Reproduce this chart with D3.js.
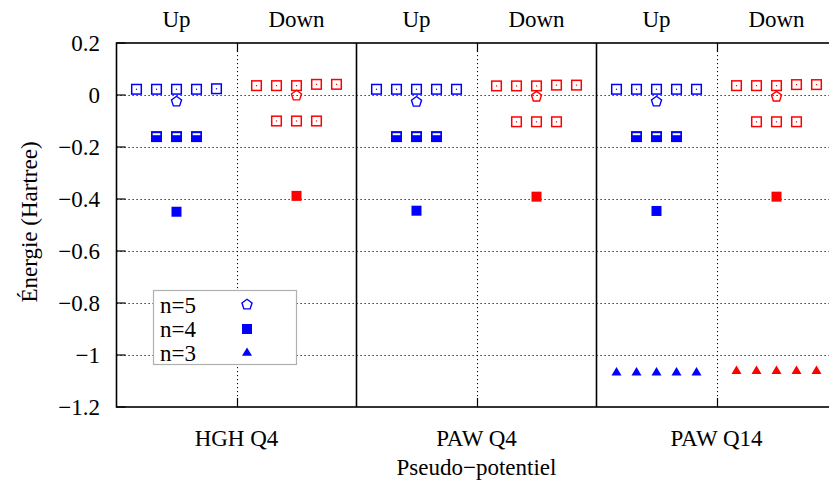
<!DOCTYPE html>
<html lang="fr">
<head>
    <meta charset="utf-8">
    <title>D3 - niveaux d'énergie</title>
    <style>
        body { margin: 0; background: #fff; }
        svg { display: block; }
    </style>
</head>
<body>

<script src="https://cdn.jsdelivr.net/npm/d3@7/dist/d3.min.js"></script>
<script>
    // catégories et spins
    var pseudos = ["HGH Q4", "PAW Q4", "PAW Q14"];
    var spins = ["Up", "Down"];
    var yTicks = [0.2, 0, -0.2, -0.4, -0.6, -0.8, -1, -1.2];

    // énergies [pseudo][spin]
    var openTop = [
        [[0.022, 0.022, 0.022, 0.022, 0.024], [0.036, 0.036, 0.036, 0.041, 0.041]],
        [[0.022, 0.022, 0.022, 0.022, 0.022], [0.035, 0.035, 0.035, 0.038, 0.038]],
        [[0.022, 0.022, 0.022, 0.022, 0.022], [0.036, 0.036, 0.036, 0.040, 0.040]]
    ];
    var openLow = [
        [[], [-0.100, -0.100, -0.100]],
        [[], [-0.103, -0.103, -0.103]],
        [[], [-0.103, -0.103, -0.103]]
    ];
    var n5 = [
        [[-0.023], [0.000]],
        [[-0.024], [-0.004]],
        [[-0.023], [-0.004]]
    ];
    var n4p = [
        [[-0.160, -0.160, -0.160], []],
        [[-0.160, -0.160, -0.160], []],
        [[-0.160, -0.160, -0.160], []]
    ];
    var n4s = [
        [[-0.449], [-0.388]],
        [[-0.445], [-0.391]],
        [[-0.446], [-0.391]]
    ];
    var n3 = [
        [[], []],
        [[], []],
        [[-1.064, -1.064, -1.064, -1.064, -1.064], [-1.058, -1.058, -1.058, -1.058, -1.058]]
    ];
    var legendLabels = ["n=5", "n=4", "n=3"];

    function main() {
        var width = 829,
            height = 484;
        var colors = ["#0000ff", "#ff0000"];

        var svg = d3.select("body").append("svg")
            .attr("width", width)
            .attr("height", height)
            .attr("font-family", "'Liberation Serif', 'DejaVu Serif', serif")
            .attr("font-size", 23);

        var x = d3.scaleLinear().domain([0, 3]).range([116.5, 836.5]);
        var y = d3.scaleLinear().domain([-1.2, 0.2]).range([407, 43]);

        // grille pointillée
        var grid = svg.append("g")
            .attr("stroke", "#000")
            .attr("stroke-width", 1)
            .attr("stroke-dasharray", "1.2,2.8");
        grid.selectAll(".gy").data(yTicks.slice(1, -1)).enter().append("line")
            .attr("x1", x(0)).attr("x2", x(3))
            .attr("y1", function (d) { return Math.round(y(d)) + 0.5; })
            .attr("y2", function (d) { return Math.round(y(d)) + 0.5; });
        grid.selectAll(".gx").data([0.5, 1.5, 2.5]).enter().append("line")
            .attr("x1", function (d) { return Math.round(x(d)) + 0.5; })
            .attr("x2", function (d) { return Math.round(x(d)) + 0.5; })
            .attr("y1", y(0.2)).attr("y2", y(-1.2));

        // cadre et séparations
        var frame = svg.append("g").attr("stroke", "#000").attr("stroke-width", 1.6).attr("fill", "none");
        frame.append("rect")
            .attr("x", x(0)).attr("y", y(0.2))
            .attr("width", x(3) - x(0)).attr("height", y(-1.2) - y(0.2));
        frame.selectAll(".sep").data([1, 2]).enter().append("line")
            .attr("x1", function (d) { return x(d); }).attr("x2", function (d) { return x(d); })
            .attr("y1", y(0.2)).attr("y2", y(-1.2));

        // graduations
        var ticks = svg.append("g").attr("stroke", "#000").attr("stroke-width", 1.2);
        ticks.selectAll(".ty").data(yTicks).enter().append("line")
            .attr("x1", x(0)).attr("x2", x(0) + 9)
            .attr("y1", function (d) { return y(d); }).attr("y2", function (d) { return y(d); });
        [0.2, -1.2].forEach(function (v) {
            ticks.selectAll(null).data([0.5, 1.5, 2.5]).enter().append("line")
                .attr("x1", function (d) { return Math.round(x(d)) + 0.5; })
                .attr("x2", function (d) { return Math.round(x(d)) + 0.5; })
                .attr("y1", y(v)).attr("y2", y(v) + (v > 0 ? 9 : -9));
        });

        // textes des axes
        svg.selectAll(".yl").data(yTicks).enter().append("text")
            .attr("x", 100).attr("y", function (d) { return y(d); })
            .attr("dy", "0.33em").attr("text-anchor", "end")
            .text(function (d) { return d3.format(".1f")(d).replace("-", "\u2212").replace(/^0\.0$/, "0").replace(/\.0$/, ""); });

        svg.selectAll(".xl").data(pseudos).enter().append("text")
            .attr("x", function (d, i) { return x(i + 0.5); }).attr("y", 446)
            .attr("text-anchor", "middle")
            .text(function (d) { return d; });

        for (var p = 0; p < pseudos.length; p++) {
            svg.selectAll(null).data(spins).enter().append("text")
                .attr("x", function (d, s) { return x(p + 0.25 + 0.5 * s); }).attr("y", 27)
                .attr("text-anchor", "middle")
                .text(function (d) { return d; });
        }

        svg.append("text")
            .attr("x", x(1.5)).attr("y", 475)
            .attr("text-anchor", "middle")
            .text("Pseudo\u2212potentiel");

        svg.append("text")
            .attr("transform", "translate(37,222) rotate(-90)")
            .attr("text-anchor", "middle")
            .text("Énergie (Hartree)");

        // points
        function flatten(arr) {
            var out = [];
            arr.forEach(function (bySpin, p) {
                bySpin.forEach(function (list, s) {
                    list.forEach(function (e, i) {
                        out.push({p: p, s: s, e: e, k: i - (list.length - 1) / 2});
                    });
                });
            });
            return out;
        }
        function px(d) { return x(d.p + 0.25 + 0.5 * d.s + d.k / 12); }
        function py(d) { return y(d.e); }

        var pent = d3.range(5).map(function (k) {
            var a = -Math.PI / 2 + k * 2 * Math.PI / 5;
            return [5.3 * Math.cos(a), 5.3 * Math.sin(a) + 0.6];
        });
        var pentPath = "M" + pent.join("L") + "Z";
        var triPath = "M0,-4.6L5,3.8L-5,3.8Z";

        var marks = svg.append("g");

        // carrés ouverts
        var open = marks.selectAll(".os").data(flatten(openTop).concat(flatten(openLow))).enter().append("g")
            .attr("transform", function (d) { return "translate(" + px(d) + "," + py(d) + ")"; });
        open.append("rect")
            .attr("x", -4.8).attr("y", -4.8).attr("width", 9.6).attr("height", 9.6)
            .attr("fill", "none").attr("stroke-width", 1.5)
            .attr("stroke", function (d) { return colors[d.s]; });
        open.append("rect")
            .attr("x", -0.6).attr("y", -0.6).attr("width", 1.2).attr("height", 1.2)
            .attr("fill", function (d) { return colors[d.s]; });

        // n=5
        marks.selectAll(".pt").data(flatten(n5)).enter().append("path")
            .attr("d", pentPath)
            .attr("transform", function (d) { return "translate(" + px(d) + "," + py(d) + ")"; })
            .attr("fill", "none").attr("stroke-width", 1.4)
            .attr("stroke", function (d) { return colors[d.s]; });

        // n=4 p, avec bande blanche
        var fp = marks.selectAll(".fp").data(flatten(n4p)).enter().append("g")
            .attr("transform", function (d) { return "translate(" + px(d) + "," + py(d) + ")"; });
        fp.append("rect")
            .attr("x", -5.5).attr("y", -5.5).attr("width", 11).attr("height", 11)
            .attr("fill", function (d) { return colors[d.s]; });
        fp.append("rect")
            .attr("x", -3.8).attr("y", -3.4).attr("width", 7.6).attr("height", 2)
            .attr("fill", "#fff");

        // n=4 s
        marks.selectAll(".fs").data(flatten(n4s)).enter().append("rect")
            .attr("x", function (d) { return px(d) - 5; }).attr("y", function (d) { return py(d) - 5; })
            .attr("width", 10).attr("height", 10)
            .attr("fill", function (d) { return colors[d.s]; });

        // n=3
        marks.selectAll(".tr").data(flatten(n3)).enter().append("path")
            .attr("d", triPath)
            .attr("transform", function (d) { return "translate(" + px(d) + "," + py(d) + ")"; })
            .attr("fill", function (d) { return colors[d.s]; });

        // légende
        var lg = svg.append("g");
        lg.append("rect")
            .attr("x", 153.5).attr("y", 290.5).attr("width", 143).attr("height", 74)
            .attr("fill", "#fff").attr("stroke", "#b0b0b0").attr("stroke-width", 1.2);
        lg.selectAll(".lt").data(legendLabels).enter().append("text")
            .attr("x", 160).attr("y", function (d, i) { return 305 + 24 * i; })
            .attr("dy", "0.35em")
            .text(function (d) { return d; });
        lg.append("path").attr("d", pentPath)
            .attr("transform", "translate(247,304)")
            .attr("fill", "none").attr("stroke", colors[0]).attr("stroke-width", 1.4);
        lg.append("rect").attr("x", 242).attr("y", 324).attr("width", 10).attr("height", 10)
            .attr("fill", colors[0]);
        lg.append("path").attr("d", triPath)
            .attr("transform", "translate(247,352)")
            .attr("fill", colors[0]);
    }

    window.onload = function () {
        main();
    };
</script>
</body>
</html>
